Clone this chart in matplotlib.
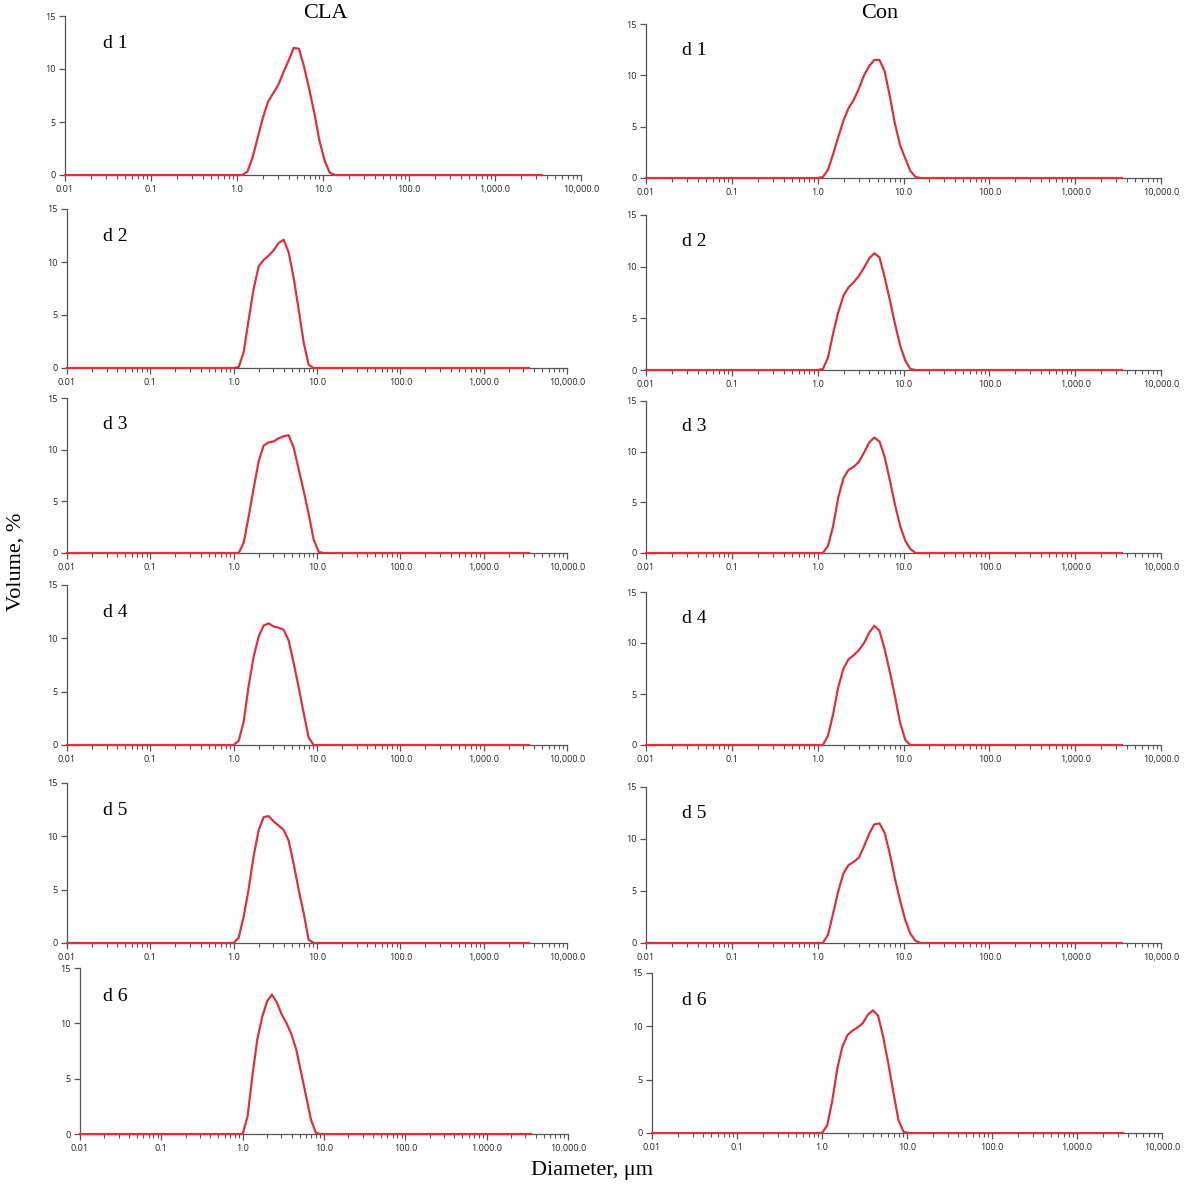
import matplotlib
matplotlib.use("Agg")
import matplotlib.pyplot as plt
from matplotlib.ticker import FixedLocator, FixedFormatter, LogLocator, NullFormatter

# particle size grid (um), first and last points are the flat ends of the range
diameter = [0.01, 1.00, 1.15, 1.32, 1.51, 1.74, 2.00, 2.29, 2.63, 3.02, 3.47,
            3.98, 4.57, 5.25, 6.03, 6.92, 7.94, 9.12, 10.5, 12.0, 13.8, 15.8, 3500]

# CLA, volume %
cla_d1 = [0, 0, 0, 0.3, 1.6, 3.5, 5.4, 6.9, 7.7, 8.5, 9.7, 10.8, 12.0, 11.9, 10.2, 8.1, 5.8, 3.2, 1.3, 0.2, 0, 0, 0]
cla_d2 = [0, 0, 0.1, 1.5, 4.5, 7.5, 9.6, 10.2, 10.6, 11.1, 11.8, 12.1, 10.9, 8.5, 5.5, 2.4, 0.3, 0, 0, 0, 0, 0, 0]
cla_d3 = [0, 0, 0, 1.0, 3.5, 6.3, 8.9, 10.4, 10.7, 10.8, 11.1, 11.3, 11.4, 10.2, 8.1, 6.0, 3.8, 1.3, 0.1, 0, 0, 0, 0]
cla_d4 = [0, 0, 0.4, 2.2, 5.5, 8.3, 10.2, 11.2, 11.4, 11.1, 11.0, 10.8, 9.8, 7.7, 5.4, 3.0, 0.7, 0, 0, 0, 0, 0, 0]
cla_d5 = [0, 0, 0.5, 2.5, 5.0, 8.2, 10.6, 11.8, 11.9, 11.4, 11.0, 10.6, 9.6, 7.4, 5.0, 2.8, 0.3, 0, 0, 0, 0, 0, 0]
cla_d6 = [0, 0, 1.6, 5.3, 8.5, 10.6, 12.0, 12.6, 11.9, 10.8, 10.0, 9.0, 7.6, 5.5, 3.4, 1.3, 0.1, 0, 0, 0, 0, 0, 0]

# Con, volume %
con_d1 = [0, 0, 0.1, 0.8, 2.3, 4.0, 5.6, 6.8, 7.6, 8.7, 10.0, 10.9, 11.5, 11.5, 10.4, 8.0, 5.3, 3.2, 1.9, 0.7, 0.1, 0, 0]
con_d2 = [0, 0, 0.1, 1.2, 3.5, 5.6, 7.2, 8.0, 8.5, 9.1, 9.9, 10.8, 11.3, 10.9, 9.0, 6.8, 4.5, 2.4, 0.9, 0.1, 0, 0, 0]
con_d3 = [0, 0, 0, 0.7, 2.6, 5.5, 7.4, 8.2, 8.5, 9.0, 9.9, 10.9, 11.4, 11.0, 9.5, 7.2, 4.8, 2.7, 1.2, 0.4, 0, 0, 0]
con_d4 = [0, 0, 0, 0.9, 3.0, 5.7, 7.5, 8.4, 8.8, 9.3, 10.0, 11.0, 11.7, 11.2, 9.4, 7.2, 4.8, 2.2, 0.5, 0, 0, 0, 0]
con_d5 = [0, 0, 0, 0.8, 2.8, 5.0, 6.7, 7.5, 7.8, 8.2, 9.3, 10.5, 11.4, 11.5, 10.6, 8.6, 6.2, 4.1, 2.2, 0.9, 0.2, 0, 0]
con_d6 = [0, 0, 0.7, 3.0, 6.0, 8.1, 9.2, 9.6, 9.9, 10.3, 11.1, 11.5, 11.0, 9.0, 6.5, 3.8, 1.2, 0.1, 0, 0, 0, 0, 0]

groups = ["CLA", "Con"]
days = ["d 1", "d 2", "d 3", "d 4", "d 5", "d 6"]
series = [[cla_d1, cla_d2, cla_d3, cla_d4, cla_d5, cla_d6],
          [con_d1, con_d2, con_d3, con_d4, con_d5, con_d6]]

x_ticks = [0.01, 0.1, 1, 10, 100, 1000, 10000]
x_labels = ["0.01", "0.1", "1.0", "10.0", "100.0", "1,000.0", "10,000.0"]
x_labels_dot = ["0.01", "0.1", "1.0", "10.0", "100.0", "1.000.0", "10.000.0"]
y_ticks = [0, 5, 10, 15]

W, H = 1184, 1194
RED = "#d93340"

# panel boxes in pixels: (x at 0.01, x at 10000), (y at 15, y at 0)
left_x = [(65, 581), (67, 567), (67, 567), (67, 567), (67, 567), (80, 568)]
left_y = [(16, 175), (209, 368), (398, 553), (585, 745), (783, 943), (968, 1134)]
right_x = [(646, 1161), (646, 1161), (646, 1161), (646, 1161), (646, 1161), (652, 1162)]
right_y = [(24, 178), (215, 370), (401, 553), (592, 745), (787, 943), (973, 1133)]
label_x = [103, 682]  # left edge of the "d n" labels, pixels

fig = plt.figure(figsize=(W / 100, H / 100), dpi=100)


def add_panel(xs, ys):
    x0, x1 = xs
    y0, y1 = ys
    return fig.add_axes([x0 / W, 1 - y1 / H, (x1 - x0) / W, (y1 - y0) / H])


for col, (xs_list, ys_list) in enumerate([(left_x, left_y), (right_x, right_y)]):
    for row in range(6):
        ax = add_panel(xs_list[row], ys_list[row])
        ax.plot(diameter, series[col][row], color=RED, lw=1.6, clip_on=False, zorder=5,
                solid_joinstyle="round")
        ax.set_xscale("log")
        ax.set_xlim(0.01, 10000)
        ax.set_ylim(0, 15)

        ax.xaxis.set_major_locator(FixedLocator(x_ticks))
        labels = x_labels_dot if (col == 0 and row == 5) else x_labels
        ax.xaxis.set_major_formatter(FixedFormatter(labels))
        ax.xaxis.set_minor_locator(LogLocator(base=10, subs=[2, 3, 4, 5, 6, 7, 8, 9]))
        ax.xaxis.set_minor_formatter(NullFormatter())
        ax.set_yticks(y_ticks)
        ax.set_yticklabels([str(t) for t in y_ticks])

        for s in ["top", "right"]:
            ax.spines[s].set_visible(False)
        for s in ["left", "bottom"]:
            ax.spines[s].set_color("#555555")
            ax.spines[s].set_linewidth(0.9)

        ax.tick_params(which="major", direction="out", length=4.5, width=0.9,
                       color="#555555", labelsize=6.5, labelcolor="#222222", pad=2.5)
        ax.tick_params(which="minor", direction="out", length=3, width=0.8, color="#555555")
        for lbl in ax.get_xticklabels() + ax.get_yticklabels():
            lbl.set_family("Open Sans")

        ytop, ybot = ys_list[row]
        fig.text(label_x[col] / W, 1 - (ybot - 0.83 * (ybot - ytop)) / H, days[row],
                 ha="left", va="center", fontsize=14, family="Liberation Serif")

fig.text(325 / W, 1 - 14 / H, groups[0], ha="center", va="center", fontsize=16, family="Liberation Serif")
fig.text(880 / W, 1 - 14 / H, groups[1], ha="center", va="center", fontsize=16, family="Liberation Serif")
fig.text(16 / W, 1 - 562 / H, "Volume, %", rotation=90, ha="center", va="center",
         fontsize=16, family="Liberation Serif")
fig.text(592 / W, 1 - 1171 / H, "Diameter, \u03bcm", ha="center", va="center",
         fontsize=16, family="Liberation Serif")

fig.savefig("out.png", dpi=100)
